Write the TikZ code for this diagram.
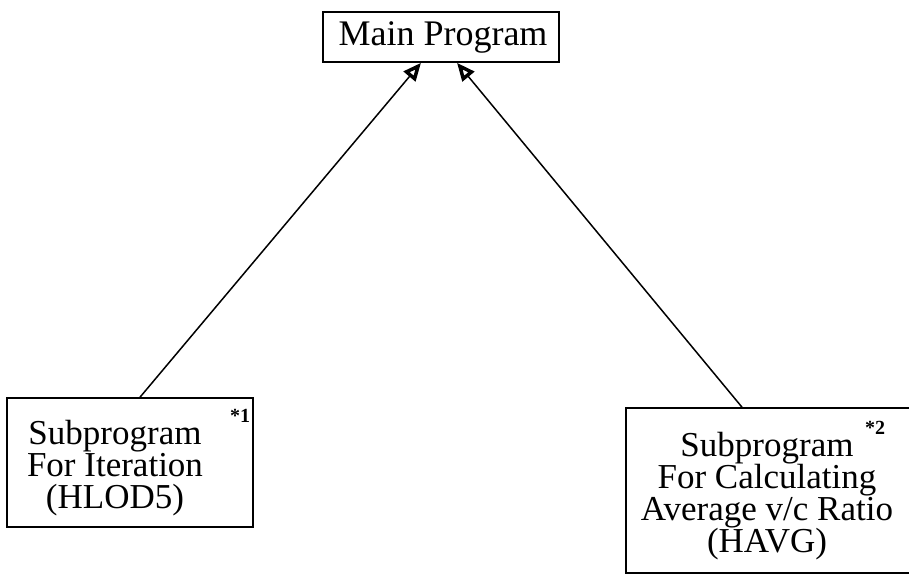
\documentclass[tikz,border=0pt]{standalone}
\usepackage{fontspec}
\setmainfont{Liberation Serif}
\usetikzlibrary{arrows.meta}
\begin{document}
\begin{tikzpicture}[x=1pt,y=-1pt,
  boxnode/.style={draw, line width=1.6pt, rectangle, inner sep=0pt},
  txt/.style={font=\fontsize{35}{32}\selectfont, align=center, inner sep=0pt},
  note/.style={font=\fontsize{20}{20}\selectfont\bfseries, inner sep=0pt},
  conn/.style={line width=1.5pt, -{Triangle[open, length=18pt, width=15pt, line width=3.5pt]}}]
\useasboundingbox (0,0) rectangle (909,576);
% main program
\node[boxnode, minimum width=236pt, minimum height=50pt] (main) at (441,37) {};
\node[font=\fontsize{36}{36}\selectfont, inner sep=0pt] (maintxt) at (443,37) {Main Program};
% left subprogram
\node[boxnode, minimum width=246pt, minimum height=129pt] (sub1) at (130,462.5) {};
\node[txt, anchor=center] (sub1txt) at (115,468) {Subprogram\\For Iteration\\(HLOD5)};
\node[note] (n1) at (240,416) {*1};
% right subprogram
\node[boxnode, minimum width=290pt, minimum height=165pt] (sub2) at (771,490.5) {};
\node[txt, anchor=center] (sub2txt) at (767,496) {Subprogram\\For Calculating\\Average v/c Ratio\\(HAVG)};
\node[note] (n2) at (875,428) {*2};
% connectors
\draw[conn] ([xshift=10pt]sub1.north) -- ([xshift=-20pt]main.south);
\draw[conn] ([xshift=-29pt]sub2.north) -- ([xshift=16pt]main.south);
\end{tikzpicture}
\end{document}
